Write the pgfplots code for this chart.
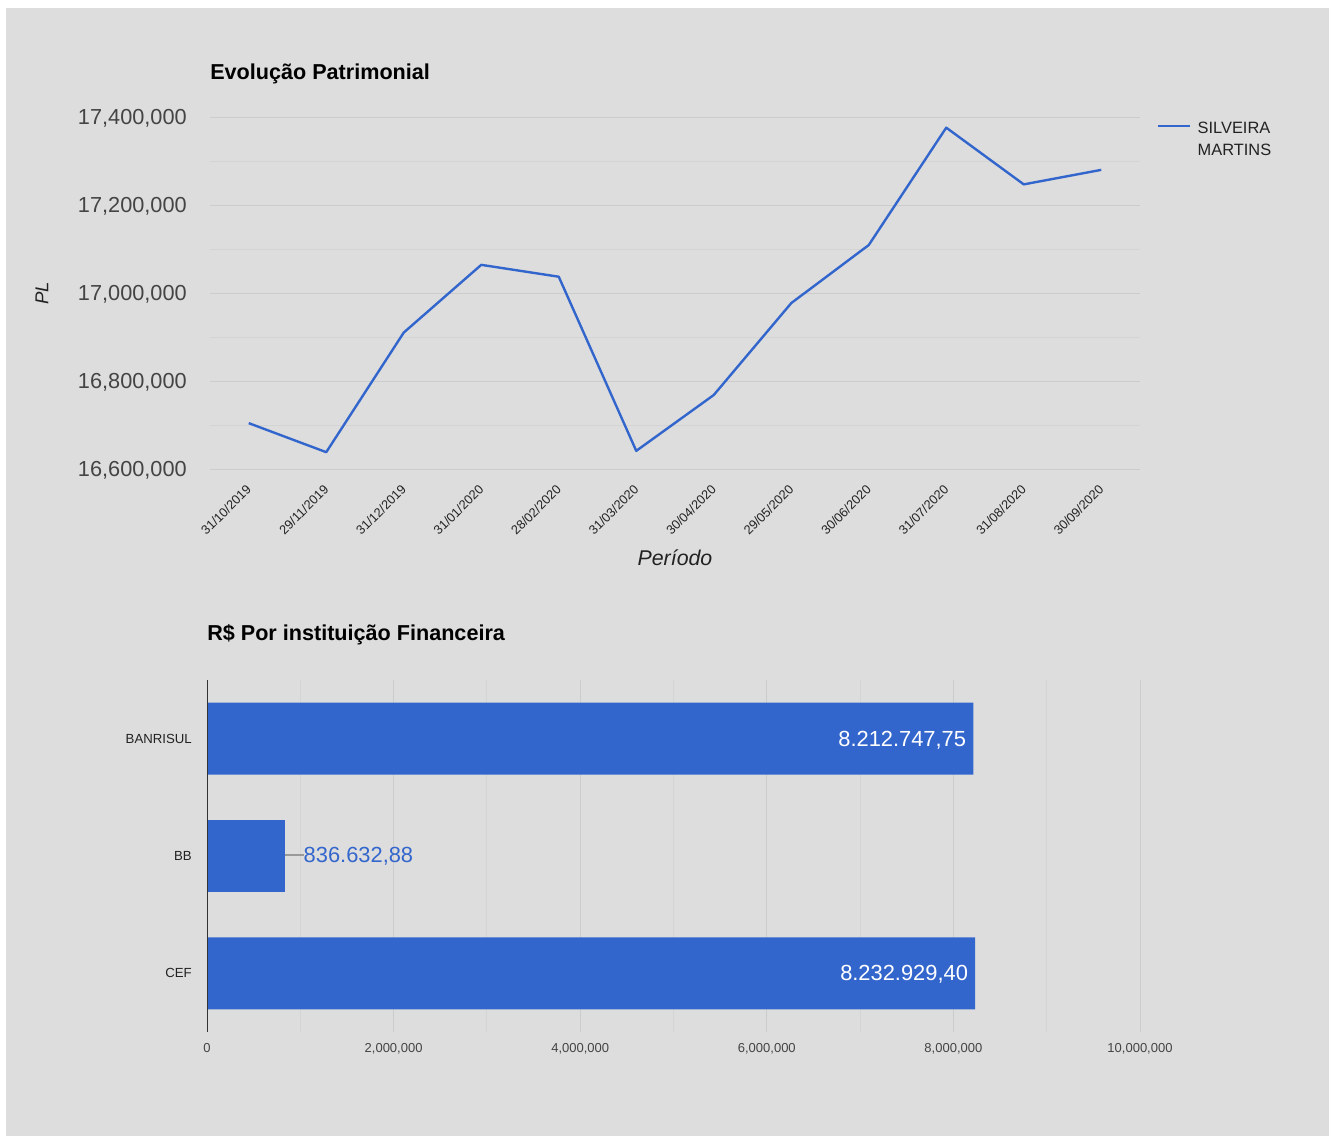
\documentclass[border=0pt]{standalone}
\usepackage{fontspec}
\setmainfont{Liberation Sans}
\usepackage{pgfplots}
\pgfplotsset{compat=1.18}
\usepackage{pgfplotstable}

\definecolor{cBG}{HTML}{DDDDDD}
\definecolor{cGrid}{HTML}{CCCCCC}
\definecolor{cMinor}{HTML}{D4D4D4}
\definecolor{cBlue}{HTML}{3366CC}
\definecolor{cText}{HTML}{222222}
\definecolor{cTick}{HTML}{444444}
\definecolor{cAxis}{HTML}{333333}
\definecolor{cLead}{HTML}{999999}

% PL por periodo (indice da data)
\pgfplotstableread{
idx pl
0  16705000
1  16639000
2  16911000
3  17065000
4  17038000
5  16642000
6  16769000
7  16978000
8  17110000
9  17377000
10 17248000
11 17281000
}\evolucao

\begin{document}
\begin{tikzpicture}
\useasboundingbox (0,0) rectangle (996.75pt,852pt);
\fill[white] (0,0) rectangle (996.75pt,852pt);
\fill[cBG] (4.5pt,0) rectangle (996.75pt,846pt);

% ---- Evolucao Patrimonial ----
\begin{axis}[
  at={(157.5pt,500pt)}, anchor=south west,
  scale only axis, width=697.5pt, height=263.85pt,
  xmin=-0.5, xmax=11.5,
  ymin=16600000, ymax=17400000,
  xtick={0,...,11},
  xticklabels={31/10/2019,29/11/2019,31/12/2019,31/01/2020,28/02/2020,31/03/2020,30/04/2020,29/05/2020,30/06/2020,31/07/2020,31/08/2020,30/09/2020},
  ytick={16600000,16800000,17000000,17200000,17400000},
  minor ytick={16700000,16900000,17100000,17300000},
  scaled y ticks=false,
  /pgf/number format/fixed,
  /pgf/number format/1000 sep={,},
  /pgf/number format/assume math mode=true,
  axis line style={draw=none},
  major tick length=0pt, minor tick length=0pt,
  ymajorgrids, yminorgrids,
  major grid style={cGrid, line width=0.75pt},
  minor grid style={cMinor, line width=0.75pt},
  yticklabel style={font=\fontsize{16.3}{19}\selectfont, text=cTick, anchor=east, inner sep=0pt, xshift=-17.25pt, yshift=-0.9pt},
  xticklabel style={font=\fontsize{9.6}{11}\selectfont, text=cText, inner sep=0pt, yshift=-13.3pt, rotate=45, anchor=east},
  title={Evolução Patrimonial},
  title style={font=\fontsize{16.2}{19}\selectfont\bfseries, text=black, at={(0,1)}, anchor=base west, inner sep=0pt, yshift=22.9pt},
  xlabel={Período},
  xlabel style={font=\fontsize{16}{19}\selectfont\itshape, text=cText, at={(axis description cs:0.5,0)}, anchor=base, inner sep=0pt, yshift=-72.3pt},
  ylabel={PL},
  ylabel style={font=\fontsize{14}{17}\selectfont\itshape, text=cText, at={(axis description cs:-0.1806,0.5)}, anchor=center, inner sep=0pt},
  legend style={at={(1.0183,1)}, anchor=north west, draw=none, fill=none, inner sep=0pt,
    nodes={inner sep=0pt}, column sep=4.5pt,
    font=\fontsize{12.3}{16.5}\selectfont, text=cText},
  legend cell align=left,
  legend image code/.code={
    \draw[#1, line width=1.8pt] (0pt,0.3pt) -- (24pt,0.3pt);
  },
]
\addplot[cBlue, line width=1.8pt, line join=round, mark=none] table[x=idx, y=pl] {\evolucao};
\addlegendentry{\begin{tabular}[t]{@{}l@{}}SILVEIRA\\MARTINS\end{tabular}}
\end{axis}

% ---- R$ Por instituicao Financeira ----
\begin{axis}[
  at={(155.25pt,78pt)}, anchor=south west,
  scale only axis, width=699.75pt, height=264pt,
  xmin=0, xmax=10000000,
  ymin=-0.5, ymax=2.5,
  xtick={0,2000000,4000000,6000000,8000000,10000000},
  minor xtick={1000000,3000000,5000000,7000000,9000000},
  ytick={0,1,2},
  yticklabels={CEF,BB,BANRISUL},
  scaled x ticks=false,
  /pgf/number format/fixed,
  /pgf/number format/1000 sep={,},
  /pgf/number format/assume math mode=true,
  axis line style={draw=none},
  major tick length=0pt, minor tick length=0pt,
  xmajorgrids, xminorgrids,
  major grid style={cGrid, line width=0.75pt},
  minor grid style={cMinor, line width=0.75pt},
  xticklabel style={font=\fontsize{9.75}{12}\selectfont, text=cTick, inner sep=0pt, yshift=-8pt},
  yticklabel style={font=\fontsize{9.9}{12}\selectfont, text=cText, anchor=east, inner sep=0pt, xshift=-11.25pt},
  title={R\$ Por instituição Financeira},
  title style={font=\fontsize{16.2}{19}\selectfont\bfseries, text=black, at={(0,1)}, anchor=base west, inner sep=0pt, yshift=23.85pt},
]
\addplot[xbar, bar width=54pt, bar shift=0pt, fill=cBlue, draw=none,
  point meta=explicit symbolic,
  nodes near coords={\pgfplotspointmeta},
  nodes near coords style={font=\fontsize{16.4}{19}\selectfont, text=white, anchor=base east, inner sep=0pt, xshift=-5.2pt, yshift=-5.6pt},
] coordinates {(8212747.75,2) [8.212.747,75] (8232929.40,0) [8.232.929,40]};
\addplot[xbar, bar width=54pt, bar shift=0pt, fill=cBlue, draw=none,
  point meta=explicit symbolic,
  nodes near coords={\textcolor{cLead}{\rule[5.3pt]{13.8pt}{0.9pt}}\pgfplotspointmeta},
  nodes near coords style={font=\fontsize{16.4}{19}\selectfont, text=cBlue, anchor=base west, inner sep=0pt, yshift=-5pt},
] coordinates {(836632.88,1) [836.632,88]};
\draw[cAxis, line width=1.5pt] (axis cs:0,-0.5) -- (axis cs:0,2.5);
\end{axis}
\end{tikzpicture}
\end{document}
